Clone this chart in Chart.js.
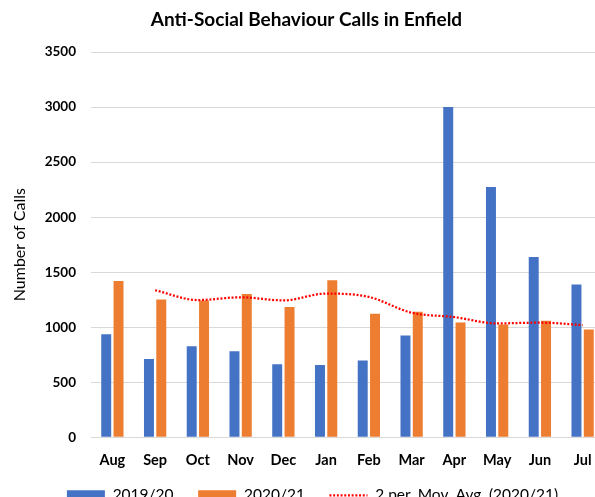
<!DOCTYPE html>
<html>
<head>
<meta charset="utf-8">
<script src="https://cdn.jsdelivr.net/npm/chart.js@4"></script>
<style>
  html, body { margin: 0; padding: 0; background: #fff; overflow: hidden; }
  #wrap { position: absolute; left: 0; top: 0; }
  canvas { display: block; }
</style>
</head>
<body>
<div id="wrap"><canvas id="asbChart" width="620" height="513"></canvas></div>
<script>
// values
const months = ['Aug', 'Sep', 'Oct', 'Nov', 'Dec', 'Jan', 'Feb', 'Mar', 'Apr', 'May', 'Jun', 'Jul'];
const calls1920 = [936, 712, 827, 782, 664, 657, 698, 925, 3000, 2274, 1638, 1389];
const calls2021 = [1420, 1252, 1243, 1303, 1185, 1427, 1123, 1141, 1044, 1026, 1059, 980];
const movAvg2021 = [null, 1336, 1247, 1272, 1244, 1306, 1275, 1132, 1092, 1035, 1042, 1020];
const yMin = 0;
const yMax = 3500;
const yStep = 500;

const FONT = 'Lato, "Open Sans", sans-serif';
const gridColor = '#D9D9D9';
const dotDash = [2, 1.7];

// trailing spaces widen the gap between legend entries like in Excel
const legendText = ['2019/20     ', '2020/21     ', '2 per. Mov. Avg. (2020/21)'];

// Excel legend sits a bit right of the chart centre
const legendShift = {
  id: 'legendShift',
  afterLayout(chart) {
    if (chart.legend) {
      chart.legend.left += 6;
      chart.legend.right += 6;
    }
  },
};

const ctx = document.getElementById('asbChart');

new Chart(ctx, {
  type: 'bar',
  data: {
    labels: months,
    datasets: [
      {
        label: '2019/20',
        data: calls1920,
        backgroundColor: '#4472C4',
        borderWidth: 0,
        categoryPercentage: 0.576,
        barPercentage: 0.81,
        order: 1,
      },
      {
        label: '2020/21',
        data: calls2021,
        backgroundColor: '#ED7D31',
        borderWidth: 0,
        categoryPercentage: 0.576,
        barPercentage: 0.81,
        order: 1,
      },
      {
        type: 'line',
        label: '2 per. Mov. Avg. (2020/21)',
        data: movAvg2021,
        borderColor: '#FF0000',
        backgroundColor: '#FF0000',
        borderWidth: 2.25,
        borderDash: dotDash,
        pointRadius: 0,
        pointHoverRadius: 0,
        cubicInterpolationMode: 'monotone',
        fill: false,
        order: 0,
      },
    ],
  },
  plugins: [legendShift],
  options: {
    responsive: false,
    animation: false,
    devicePixelRatio: 1,
    layout: {
      padding: { left: 9, right: 16, top: 0, bottom: 0 },
    },
    plugins: {
      title: {
        display: true,
        text: 'Anti-Social Behaviour Calls in Enfield',
        color: '#000',
        font: { family: FONT, size: 19, weight: 'bold' },
        padding: { top: 8.6, bottom: 20.6 },
      },
      legend: {
        display: true,
        position: 'bottom',
        labels: {
          color: '#000',
          font: { family: FONT, size: 15.5 },
          usePointStyle: true,
          pointStyleWidth: 38,
          boxHeight: 10,
          padding: 4.75,
          sort: (a, b) => a.datasetIndex - b.datasetIndex,
          generateLabels: (chart) => {
            const items = Chart.defaults.plugins.legend.labels.generateLabels(chart);
            return items.map((item) => {
              const i = item.datasetIndex;
              item.text = legendText[i];
              if (i === 2) {
                item.pointStyle = 'line';
                item.strokeStyle = '#FF0000';
                item.lineWidth = 2.25;
                item.lineDash = dotDash;
              } else {
                item.pointStyle = 'rect';
                item.lineWidth = 0;
              }
              return item;
            });
          },
        },
      },
      tooltip: { enabled: false },
    },
    scales: {
      x: {
        grid: { display: false, drawTicks: false },
        border: { display: true, color: gridColor, width: 1 },
        ticks: {
          color: '#000',
          font: { family: FONT, size: 14.5, weight: 'bold' },
          padding: 14,
          maxRotation: 0,
        },
      },
      y: {
        min: yMin,
        max: yMax,
        grid: { color: gridColor, lineWidth: 1, drawTicks: false },
        border: { display: false },
        ticks: {
          stepSize: yStep,
          color: '#000',
          font: { family: FONT, size: 13.5, weight: 'bold' },
          padding: 15,
          callback: (value) => String(value),
        },
        title: {
          display: true,
          text: 'Number of Calls',
          color: '#000',
          font: { family: FONT, size: 16 },
          padding: { top: 1, bottom: 0 },
        },
        afterFit: (scale) => {
          scale.width = 82;
        },
      },
    },
  },
});
</script>
</body>
</html>
